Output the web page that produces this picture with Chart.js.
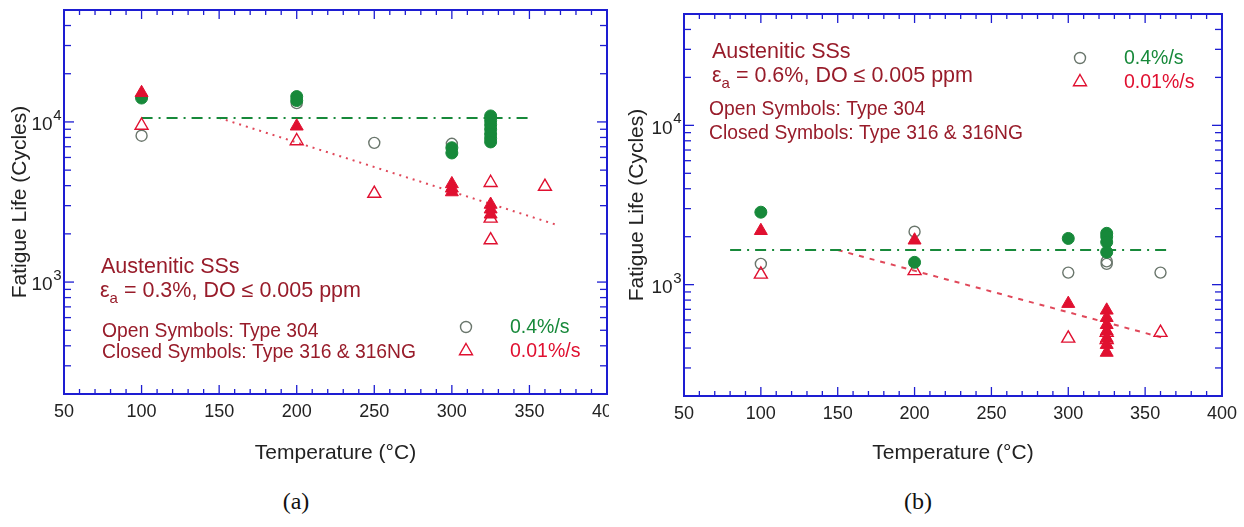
<!DOCTYPE html>
<html>
<head>
<meta charset="utf-8">
<title>Fatigue life of austenitic stainless steels vs temperature</title>
<script src="https://cdn.jsdelivr.net/npm/chart.js@4.4.1/dist/chart.umd.min.js"></script>
<style>
  html, body { margin: 0; padding: 0; background: #fff; width: 1244px; height: 527px; overflow: hidden; }
  .panel { position: absolute; top: 0; overflow: hidden; }
  .cap { position: absolute; top: 488px; font-family: "Liberation Serif", "Times New Roman", serif;
         font-size: 24px; color: #111; transform: translateX(-50%); white-space: nowrap; }
</style>
</head>
<body>
<div class="panel" style="left:0;width:609px;height:470px"><canvas id="chartA" width="640" height="470" style="width:640px;height:470px"></canvas></div>
<div class="panel" style="left:620px;width:624px;height:470px"><canvas id="chartB" width="624" height="470" style="width:624px;height:470px"></canvas></div>
<div class="cap" style="left:296px">(a)</div>
<div class="cap" style="left:918px">(b)</div>

<script>
// ---- axis values ----
const tempTicks = [50, 100, 150, 200, 250, 300, 350, 400];
const lifeDecades = [1000, 10000];
const LIFE_MIN = 200, LIFE_MAX = 50000;

// ---- panel (a): strain amplitude 0.3 % ----  [temperature °C, cycles]
const a316Fast = [[100, 14100], [200, 14400], [200, 13600], [300, 6900], [300, 6400],
                  [325, 10900], [325, 10200], [325, 9600], [325, 9000], [325, 8400], [325, 7900], [325, 7500]];
const a304Fast = [[100, 8200], [200, 13100], [250, 7400], [300, 7300]];
const a316Slow = [[100, 15200], [200, 9400], [300, 4100], [300, 3850], [300, 3650],
                  [325, 3050], [325, 2850], [325, 2650]];
const a304Slow = [[100, 9500], [200, 7600], [250, 3570], [325, 4170], [325, 2500], [325, 1830], [360, 3950]];
const aMeanFast = [[100, 10600], [350, 10600]];
const aTrendSlow = [[150, 10600], [368, 2270]];

// ---- panel (b): strain amplitude 0.6 % ----
const b316Fast = [[100, 2850], [200, 1380], [300, 1950], [325, 2100], [325, 2000], [325, 1850], [325, 1600]];
const b304Fast = [[100, 1350], [200, 2150], [300, 1190], [325, 1350], [325, 1400], [360, 1190]];
const b316Slow = [[100, 2180], [200, 1900], [300, 760], [325, 690], [325, 620], [325, 560],
                  [325, 510], [325, 460], [325, 420], [325, 375]];
const b304Slow = [[100, 1160], [200, 1220], [300, 460], [325, 500], [325, 450], [360, 500]];
const bMeanFast = [[80, 1650], [365, 1650]];
const bTrendSlow = [[150, 1650], [363, 460]];

// ---- styling ----
const FONT = '"Liberation Sans", Arial, Helvetica, sans-serif';
const AXIS_BLUE = '#1d1dd2';
const INK = '#222';
const GREEN = '#17893a';
const RED = '#e01030';
const NOTE_RED = '#981c2a';
const OPEN_GRAY = '#6a766c';

const xy = arr => arr.map(([x, y]) => ({ x, y }));

function markers(label, arr, filled, tri, order) {
  const color = tri ? RED : GREEN;
  return {
    label, data: xy(arr), order, showLine: false,
    pointStyle: tri ? 'triangle' : 'circle',
    pointRadius: tri ? 7.5 : (filled ? 6 : 5.5),
    pointBackgroundColor: filled ? color : 'rgba(255,255,255,0)',
    pointBorderColor: filled ? color : (tri ? RED : OPEN_GRAY),
    pointBorderWidth: filled ? 1 : 1.4
  };
}
function trend(label, arr, color, dash, order) {
  return { label, data: xy(arr), order, showLine: true, borderColor: color, borderWidth: 2,
           borderDash: dash, pointRadius: 0, fill: false, tension: 0 };
}

// frame, inward ticks, decade labels, notes and key for one panel
function panelDecor(decor) {
  return {
    id: 'panelDecor',
    afterDraw(chart) {
      const { ctx, chartArea: ca, scales: { x, y } } = chart;
      const seg = (x1, y1, x2, y2) => { ctx.beginPath(); ctx.moveTo(x1, y1); ctx.lineTo(x2, y2); ctx.stroke(); };
      ctx.save();
      ctx.strokeStyle = AXIS_BLUE;
      ctx.lineWidth = 1.3;
      for (let t = x.min; t <= x.max + 1e-9; t += 10) {
        const px = x.getPixelForValue(t);
        const len = (Math.round(t) % 50 === 0) ? 9 : 5;
        seg(px, ca.bottom, px, ca.bottom - len);
        seg(px, ca.top, px, ca.top + len);
      }
      for (let d = 100; d <= 100000; d *= 10) {
        for (let m = 1; m <= 9; m++) {
          const v = m * d;
          if (v < y.min || v > y.max) continue;
          const py = y.getPixelForValue(v);
          const len = m === 1 ? 10 : 7;
          seg(ca.left, py, ca.left + len, py);
          seg(ca.right, py, ca.right - len, py);
        }
      }
      ctx.lineWidth = 2;
      ctx.strokeRect(ca.left, ca.top, ca.right - ca.left, ca.bottom - ca.top);

      // decade labels: 10 with raised exponent
      ctx.fillStyle = INK;
      ctx.textBaseline = 'middle';
      ctx.textAlign = 'left';
      lifeDecades.forEach(v => {
        const py = y.getPixelForValue(v);
        const exp = String(Math.round(Math.log10(v)));
        ctx.font = '19px ' + FONT;
        const wBase = ctx.measureText('10').width;
        ctx.font = '15px ' + FONT;
        const wExp = ctx.measureText(exp).width;
        const x0 = ca.left - 3 - wBase - wExp;
        ctx.font = '19px ' + FONT;
        ctx.fillText('10', x0, py + 3);
        ctx.font = '15px ' + FONT;
        ctx.fillText(exp, x0 + wBase + 0.5, py - 6);
      });

      // notes
      ctx.textBaseline = 'alphabetic';
      decor.notes.forEach(n => {
        let cx = ca.left + n.dx;
        const by = ca.top + n.dy;
        ctx.fillStyle = NOTE_RED;
        n.parts.forEach(p => {
          ctx.font = (p.size || n.size) + 'px ' + FONT;
          ctx.fillText(p.t, cx, by + (p.shift || 0));
          cx += ctx.measureText(p.t).width;
        });
      });

      // key
      decor.key.forEach(k => {
        const mx = ca.left + k.dx, my = ca.top + k.dy;
        ctx.save();
        ctx.strokeStyle = k.tri ? RED : OPEN_GRAY;
        ctx.fillStyle = 'rgba(255,255,255,0)';
        ctx.lineWidth = 1.4;
        Chart.helpers.drawPoint(ctx, { pointStyle: k.tri ? 'triangle' : 'circle',
                                       radius: k.tri ? 7.5 : 5.5, rotation: 0, borderWidth: 1.4 }, mx, my);
        ctx.restore();
        ctx.fillStyle = k.tri ? RED : GREEN;
        ctx.font = k.size + 'px ' + FONT;
        ctx.textBaseline = 'middle';
        ctx.fillText(k.text, mx + k.gap, my + 1);
      });
      ctx.restore();
    }
  };
}

function makeChart(id, sets, cfg) {
  return new Chart(document.getElementById(id), {
    type: 'scatter',
    data: { datasets: sets },
    options: {
      responsive: false, animation: false, devicePixelRatio: 1, events: [],
      layout: { padding: cfg.padding },
      plugins: { legend: { display: false }, tooltip: { enabled: false } },
      scales: {
        x: {
          type: 'linear', min: 50, max: 400,
          afterBuildTicks(s) { s.ticks = tempTicks.map(v => ({ value: v })); },
          grid: { display: false, drawTicks: false }, border: { display: false },
          ticks: { color: INK, font: { family: FONT, size: 18 }, padding: 7, maxRotation: 0, autoSkip: false },
          title: { display: true, text: 'Temperature (°C)', color: INK, font: { family: FONT, size: 21 },
                   padding: { top: 0, bottom: cfg.xTitlePad } },
          afterFit(s) { s.height = cfg.xHeight; }
        },
        y: {
          type: 'logarithmic', min: LIFE_MIN, max: LIFE_MAX,
          afterBuildTicks(s) { s.ticks = lifeDecades.map(v => ({ value: v })); },
          grid: { display: false, drawTicks: false }, border: { display: false },
          ticks: { display: false },
          title: { display: true, text: 'Fatigue Life (Cycles)', color: INK, font: { family: FONT, size: 21 },
                   padding: { top: cfg.yTitlePad, bottom: 0 } },
          afterFit(s) { s.width = 64; }
        }
      }
    },
    plugins: [panelDecor(cfg.decor)]
  });
}

const noteParts = (strain) => [
  { t: 'ε' }, { t: 'a', size: 15, shift: 6 }, { t: ' = ' + strain + ', DO ≤ 0.005 ppm' }
];

makeChart('chartA', [
  markers('Type 316 & 316NG, 0.01%/s', a316Slow, true, true, 1),
  markers('Type 316 & 316NG, 0.4%/s', a316Fast, true, false, 2),
  markers('Type 304, 0.01%/s', a304Slow, false, true, 3),
  markers('Type 304, 0.4%/s', a304Fast, false, false, 4),
  trend('Mean, 0.4%/s', aMeanFast, GREEN, [11, 6, 2, 6], 5),
  trend('Trend, 0.01%/s', aTrendSlow, '#e0485a', [2, 5], 6)
], {
  padding: { left: 0, top: 10, right: 33, bottom: 0 },
  xHeight: 76, xTitlePad: 4, yTitlePad: 8,
  decor: {
    notes: [
      { dx: 37, dy: 263, size: 21.5, parts: [{ t: 'Austenitic SSs' }] },
      { dx: 36, dy: 287, size: 21.5, parts: noteParts('0.3%') },
      { dx: 38, dy: 327, size: 19.3, parts: [{ t: 'Open Symbols: Type 304' }] },
      { dx: 38, dy: 348, size: 19.3, parts: [{ t: 'Closed Symbols: Type 316 & 316NG' }] }
    ],
    key: [
      { dx: 402, dy: 317, tri: false, text: '0.4%/s', gap: 44, size: 19.5 },
      { dx: 402, dy: 341, tri: true, text: '0.01%/s', gap: 44, size: 19.5 }
    ]
  }
});

makeChart('chartB', [
  markers('Type 316 & 316NG, 0.01%/s', b316Slow, true, true, 1),
  markers('Type 316 & 316NG, 0.4%/s', b316Fast, true, false, 2),
  markers('Type 304, 0.01%/s', b304Slow, false, true, 3),
  markers('Type 304, 0.4%/s', b304Fast, false, false, 4),
  trend('Mean, 0.4%/s', bMeanFast, GREEN, [11, 6, 2, 6], 5),
  trend('Trend, 0.01%/s', bTrendSlow, '#e0485a', [5, 6], 6)
], {
  padding: { left: 0, top: 14, right: 19, bottom: 0 },
  xHeight: 74, xTitlePad: 4, yTitlePad: 5,
  decor: {
    notes: [
      { dx: 28, dy: 44, size: 21.5, parts: [{ t: 'Austenitic SSs' }] },
      { dx: 28, dy: 68, size: 21.5, parts: noteParts('0.6%') },
      { dx: 25, dy: 101, size: 19.3, parts: [{ t: 'Open Symbols: Type 304' }] },
      { dx: 25, dy: 125, size: 19.3, parts: [{ t: 'Closed Symbols: Type 316 & 316NG' }] }
    ],
    key: [
      { dx: 396, dy: 44, tri: false, text: '0.4%/s', gap: 44, size: 19.5 },
      { dx: 396, dy: 68, tri: true, text: '0.01%/s', gap: 44, size: 19.5 }
    ]
  }
});
</script>
</body>
</html>
